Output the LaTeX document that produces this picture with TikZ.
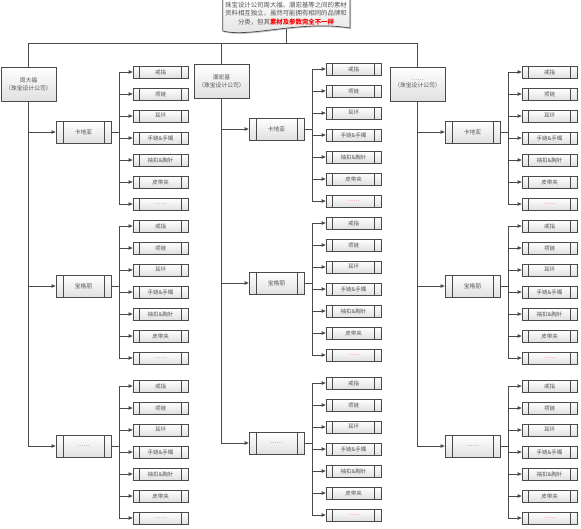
\documentclass[tikz,border=0pt]{standalone}
\usepackage{fontspec}
\newfontfamily\cjk{Noto Sans CJK SC}
\usetikzlibrary{shadows,arrows.meta}
\definecolor{edge}{HTML}{4A4A4A}
\definecolor{txt}{HTML}{555555}
\definecolor{dotred}{HTML}{F03030}
\tikzset{
  box/.style={draw=edge, line width=0.7pt, top color=white, bottom color=black!12,
    drop shadow={shadow xshift=1.2pt,shadow yshift=-1.2pt,fill=black!40,opacity=0.6},
    font=\cjk\fontsize{5.8}{7.8}\selectfont, text=txt, inner sep=0pt, align=center},
  company/.style={box, minimum width=55pt, minimum height=34pt},
  procbox/.style={box, path picture={\draw[edge,line width=0.7pt]
      ([xshift=#1]path picture bounding box.north west) -- ([xshift=#1]path picture bounding box.south west)
      ([xshift=-#1]path picture bounding box.north east) -- ([xshift=-#1]path picture bounding box.south east);}},
  midbox/.style={procbox=7pt, minimum width=55pt, minimum height=22pt},
  leafbox/.style={procbox=6.5pt, minimum width=55pt, minimum height=12pt, font=\cjk\fontsize{5.5}{6}\selectfont},
  link/.style={draw=edge, line width=0.8pt},
  arr/.style={link, -{Triangle[length=4pt,width=3.5pt]}},
}
\begin{document}
\begin{tikzpicture}[x=1pt,y=-1pt]
\useasboundingbox (0,0) rectangle (581,528);
% callout
\path[draw=edge, line width=0.7pt, top color=white, bottom color=black!12,
  drop shadow={shadow xshift=1.2pt,shadow yshift=-1.2pt,fill=black!40,opacity=0.6}]
  (222.7,-2) -- (350,-2) -- (350,28) .. controls (300,20) and (250,38) .. (222.7,31) -- cycle;
\node[font=\cjk\fontsize{6.4}{8.2}\selectfont, text=txt, align=center, text width=130pt, inner sep=0pt] (note) at (286,13.5)
  {珠宝设计公司周大福、潮宏基等之间的素材\\资料相互独立，虽然可能拥有相同的品牌和\\分类，但其{\color{red}\bfseries 素材及参数完全不一样}};
\coordinate (notebot) at (286,29);
\coordinate (topbus) at (0,43);
\foreach \col/\xo/\yo/\cname in {1/0/0/周大福, 2/193/-3/潮宏基, 3/389/0/……}{
  \node[company] (c\col) at ({28.5+\xo},{84+\yo}) {\cname\\（珠宝设计公司）};
  \foreach \g/\gs/\gname in {1/72/卡地亚, 2/226/宝格丽, 3/386/……}{
    \node[midbox] (m\col\g) at ({83.5+\xo},{\gs+60+\yo}) {\gname};
    \foreach \k/\lname in {1/戒指,2/项链,3/耳环,4/手链\&手镯,5/袖扣\&胸针,6/皮带夹,7/{\textcolor{dotred}{……}}}{
      \node[leafbox] (l\col\g\k) at ({160.5+\xo},{\gs+(\k-1)*22+\yo}) {\lname};
      \draw[arr] (m\col\g.east) -- ++(8,0) |- (l\col\g\k.west);
    }
  }
  \draw[arr] (c\col.south) |- (m\col3.west);
  \draw[arr] (c\col.south |- m\col1.west) -- (m\col1.west);
  \draw[arr] (c\col.south |- m\col2.west) -- (m\col2.west);
}
\draw[link] (c1.north) -- (c1.north |- topbus) -- (c3.north |- topbus) -- (c3.north);
\draw[link] (c2.north) -- (c2.north |- topbus);
\draw[link] (notebot) -- (notebot |- topbus);
\end{tikzpicture}
\end{document}
